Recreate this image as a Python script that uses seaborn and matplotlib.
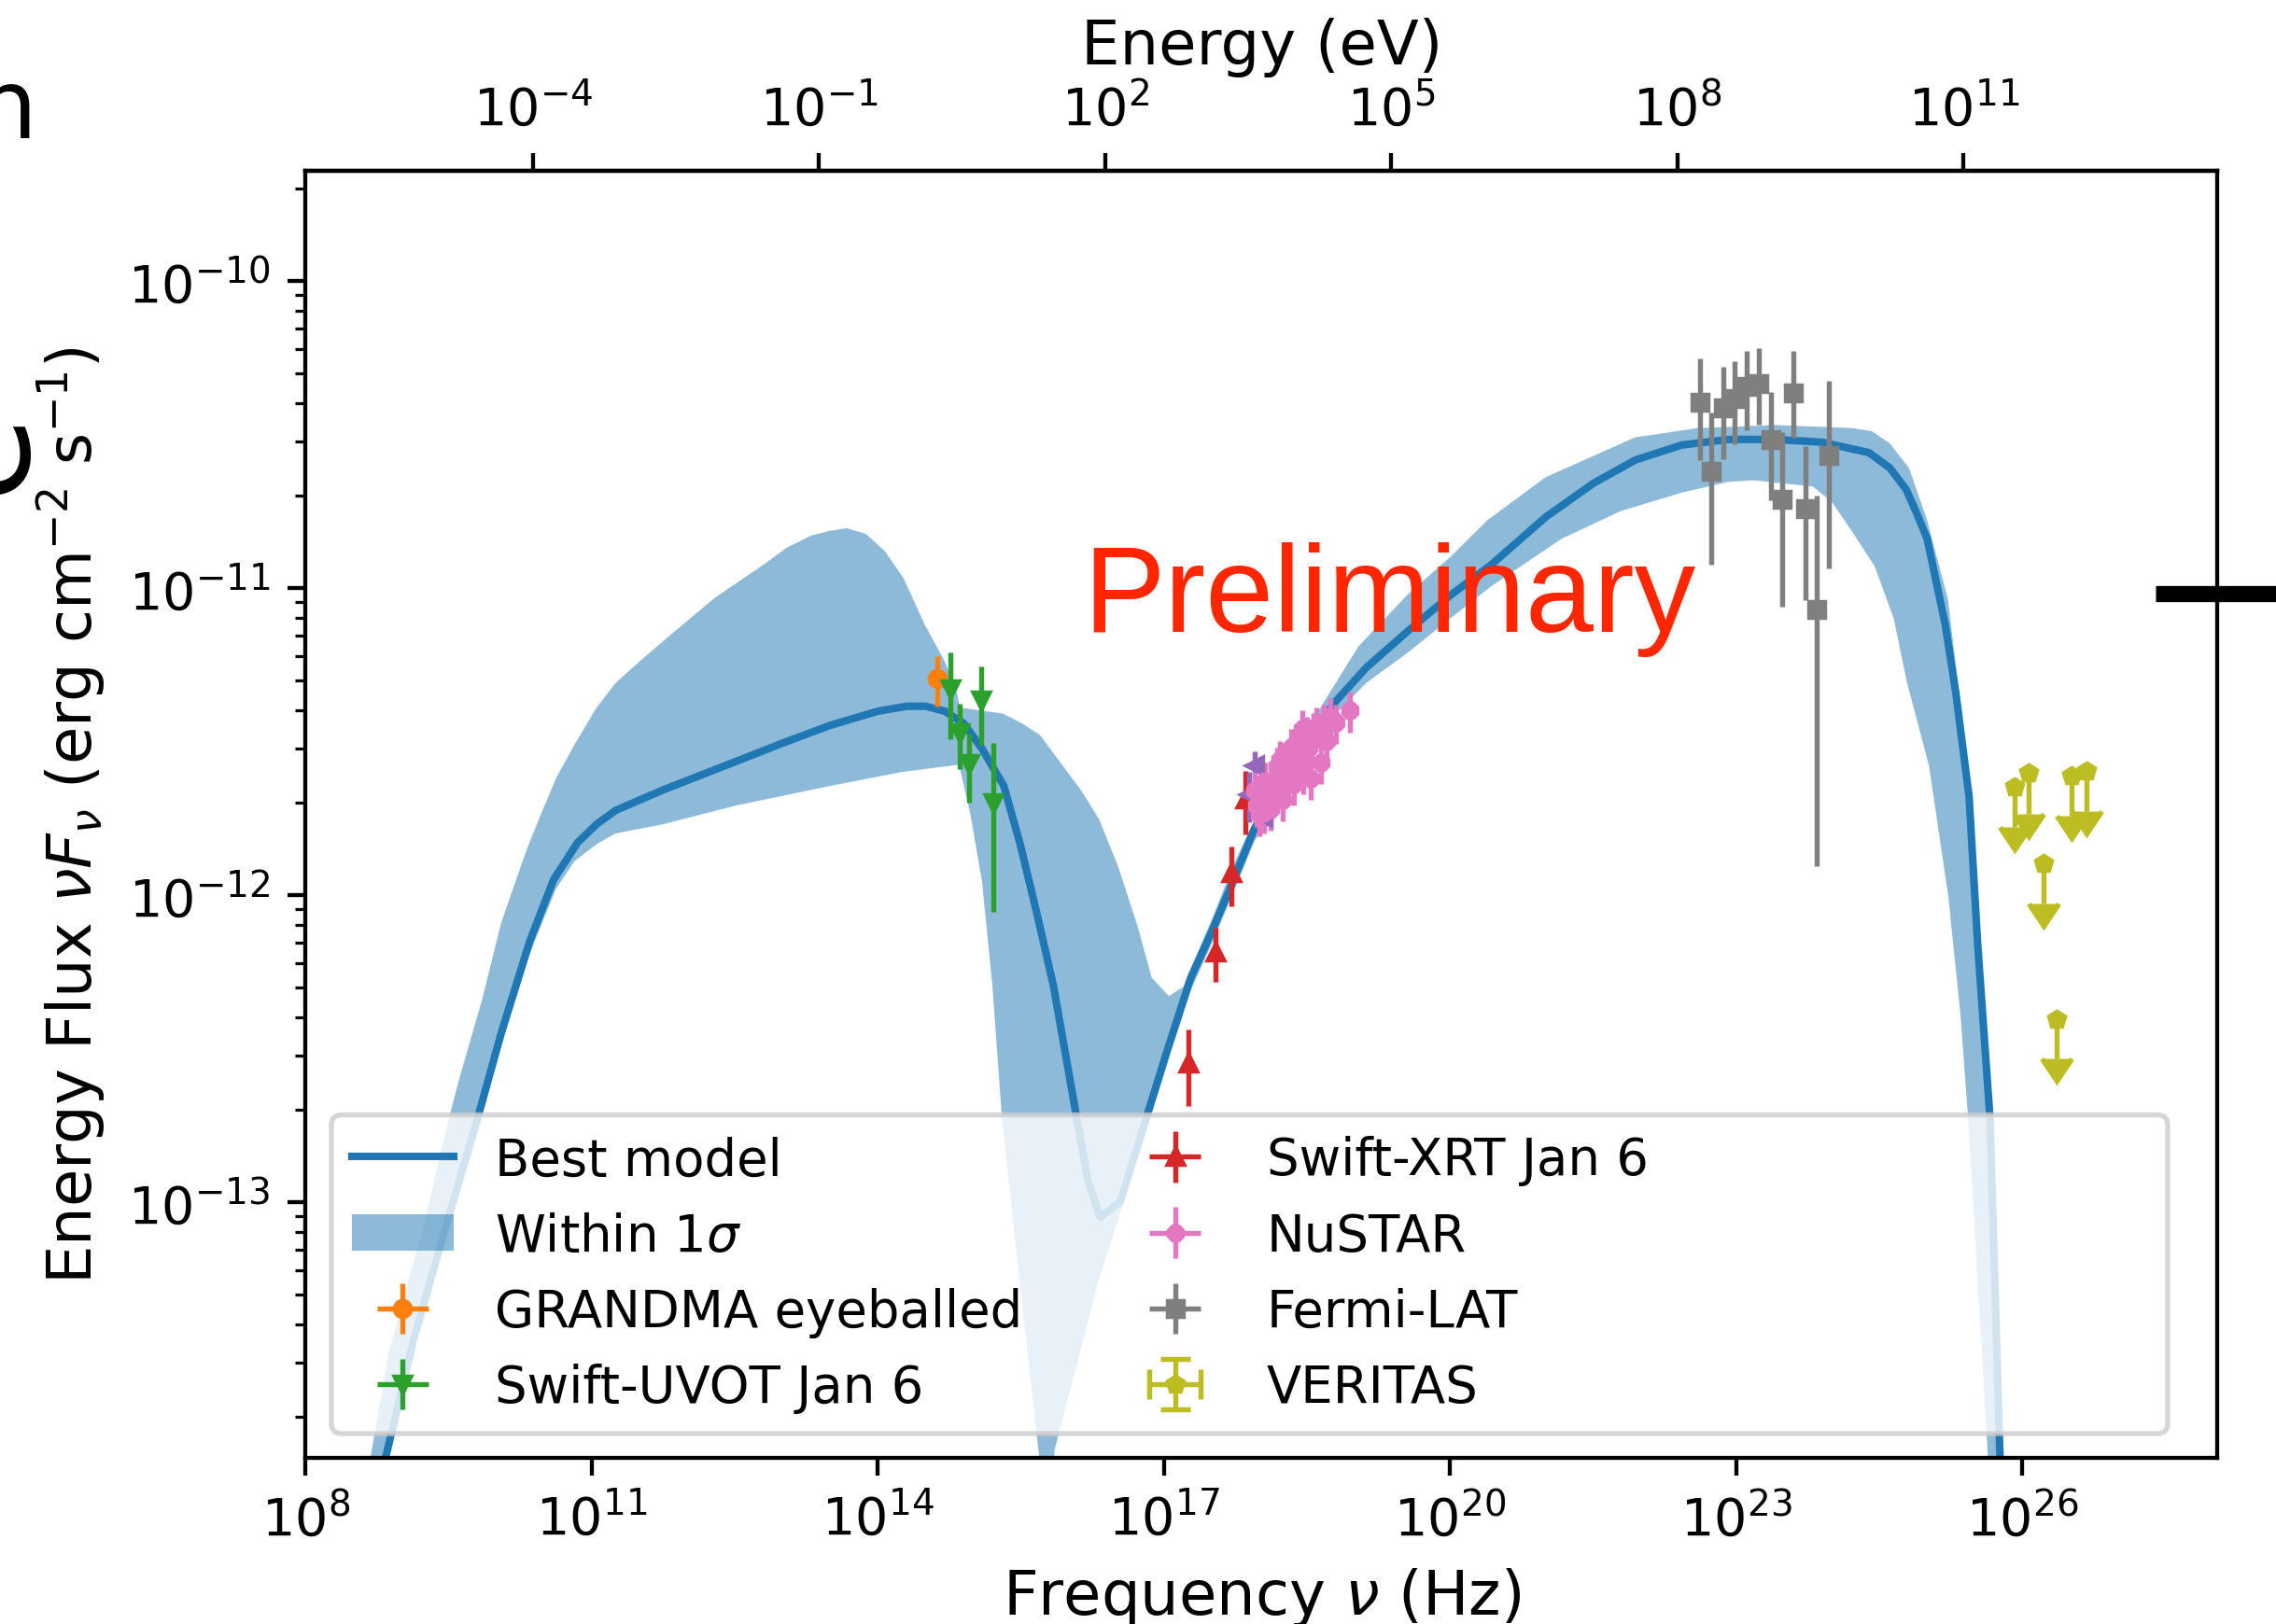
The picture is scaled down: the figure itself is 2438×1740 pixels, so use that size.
import numpy as np
import matplotlib
matplotlib.use("Agg")
import matplotlib.pyplot as plt
from matplotlib.patches import FancyBboxPatch
from matplotlib.lines import Line2D
from matplotlib.ticker import FixedLocator, NullLocator
import seaborn as sns

# ---------------------------------------------------------------- model (log10 values)
model_lognu = np.array([
    8.50, 8.84, 9.13, 9.46, 9.80, 10.05, 10.35, 10.60, 10.85, 11.05, 11.25, 11.75,
    12.50, 13.00, 13.50, 14.00, 14.30, 14.50, 14.70, 14.90, 15.09, 15.32, 15.49,
    15.67, 15.84, 16.08, 16.20, 16.33, 16.54, 16.81, 17.05, 17.28, 17.50, 17.73,
    17.94, 18.25, 18.51, 18.77, 19.12, 19.56, 20.00, 20.43, 21.00, 21.50, 21.94,
    22.43, 22.92, 23.41, 23.90, 24.39, 24.61, 24.78, 24.88, 25.00, 25.19, 25.30,
    25.44, 25.53, 25.61, 25.66, 25.76, 25.85])
model_logflux = np.array([
    -14.30, -13.83, -13.45, -13.09, -12.73, -12.45, -12.15, -11.95, -11.83, -11.77,
    -11.725, -11.658, -11.567, -11.506, -11.448, -11.402, -11.386, -11.386, -11.402,
    -11.442, -11.524, -11.646, -11.834, -12.066, -12.297, -12.72, -12.93, -13.05,
    -13.00, -12.73, -12.49, -12.27, -12.12, -11.95, -11.79, -11.63, -11.51, -11.38,
    -11.26, -11.14, -11.025, -10.925, -10.77, -10.66, -10.584, -10.535, -10.517,
    -10.517, -10.526, -10.56, -10.61, -10.68, -10.75, -10.84, -11.12, -11.34,
    -11.68, -12.16, -12.51, -12.73, -13.79, -14.60])

# 1-sigma envelope: upper and lower edges (log10 values)
band_hi_lognu = np.array([
    8.40, 8.68, 8.87, 9.23, 9.50, 9.60, 9.85, 10.05, 10.32, 10.45, 10.625, 10.82,
    11.05, 11.25, 11.50, 11.80, 12.30, 12.80, 13.04, 13.30, 13.49, 13.67, 13.87,
    14.07, 14.27, 14.49, 14.70, 14.82, 14.86, 15.08, 15.31, 15.50, 15.70, 15.89,
    16.13, 16.32, 16.52, 16.72, 16.87, 17.05, 17.20, 17.28, 17.50, 17.73, 18.00,
    18.50, 19.04, 19.56, 20.00, 20.39, 21.00, 21.94, 22.60, 23.41, 24.22, 24.42,
    24.61, 24.81, 25.00, 25.22, 25.30, 25.44, 25.53, 25.61, 25.68, 25.78, 25.90])
band_hi_logflux = np.array([
    -14.10, -13.83, -13.49, -13.085, -12.73, -12.61, -12.34, -12.09, -11.85, -11.75,
    -11.62, -11.51, -11.39, -11.31, -11.24, -11.16, -11.03, -10.925, -10.87, -10.83,
    -10.815, -10.806, -10.824, -10.88, -10.97, -11.12, -11.24, -11.33, -11.39, -11.40,
    -11.41, -11.44, -11.48, -11.56, -11.66, -11.755, -11.91, -12.10, -12.27, -12.33,
    -12.30, -12.24, -12.08, -11.90, -11.72, -11.46, -11.19, -11.02, -10.90, -10.78,
    -10.64, -10.51, -10.48, -10.47, -10.48, -10.49, -10.53, -10.61, -10.78, -11.04,
    -11.25, -11.62, -12.08, -12.42, -12.73, -13.79, -14.60])
band_lo_lognu = np.array([
    8.60, 8.84, 9.13, 9.46, 9.80, 10.05, 10.35, 10.625, 10.82, 11.05, 11.25, 11.75,
    12.50, 13.49, 14.25, 14.85, 14.97, 15.09, 15.20, 15.30, 15.50, 15.69, 15.77,
    15.85, 16.30, 16.78, 17.05, 17.28, 17.50, 17.73, 17.94, 18.25, 18.51, 18.77,
    19.12, 19.56, 20.00, 20.43, 21.17, 21.79, 21.94, 22.43, 22.92, 23.18, 23.80,
    24.00, 24.22, 24.45, 24.65, 24.79, 25.02, 25.22, 25.35, 25.43, 25.63, 25.75])
band_lo_logflux = np.array([
    -14.10, -13.87, -13.49, -13.13, -12.77, -12.49, -12.19, -11.98, -11.89, -11.835,
    -11.80, -11.77, -11.71, -11.646, -11.60, -11.576, -11.74, -11.956, -12.297, -12.73,
    -13.30, -13.83, -14.50, -13.81, -13.27, -12.80, -12.53, -12.31, -12.16, -11.99,
    -11.83, -11.67, -11.55, -11.42, -11.31, -11.21, -11.10, -10.995, -10.84, -10.75,
    -10.736, -10.69, -10.655, -10.65, -10.67, -10.72, -10.82, -10.93, -11.10, -11.31,
    -11.58, -12.00, -12.39, -12.73, -13.79, -14.60])

# ---------------------------------------------------------------- data points (Hz, erg cm^-2 s^-1)
grandma_nu = [4.15e14]
grandma_flux = [5.05e-12]
grandma_xerr = [1.0e13]
grandma_yerr = [0.94e-12]

uvot_nu = [5.69e14, 7.13e14, 9.06e14, 1.205e15, 1.63e15]
uvot_flux = [4.68e-12, 3.38e-12, 2.67e-12, 4.31e-12, 2.00e-12]
uvot_xerr = [1.7e13, 2.1e13, 2.7e13, 3.6e13, 4.9e13]
uvot_yerr = [1.47e-12, 0.82e-12, 0.68e-12, 1.24e-12, 1.12e-12]

xrt_nu = [1.80e17, 3.44e17, 5.12e17, 7.18e17]
xrt_flux = [2.84e-13, 6.52e-13, 1.18e-12, 2.05e-12]
xrt_xerr = [5.0e15, 1.0e16, 1.5e16, 2.0e16]
xrt_yerr = [0.79e-13, 1.30e-13, 0.26e-12, 0.48e-12]

xrt_b_nu = [7.74e17, 8.99e17, 1.087e18]
xrt_b_flux = [2.12e-12, 2.64e-12, 1.80e-12]
xrt_b_xerr = [2.3e16, 2.7e16, 3.3e16]
xrt_b_yerr = [0.40e-12, 0.30e-12, 0.20e-12]

xrt_c_nu = [1.146e18]
xrt_c_flux = [1.98e-12]
xrt_c_xerr = [3.4e16]
xrt_c_yerr = [0.30e-12]

nustar_nu = [8.913e17, 9.333e17, 1.000e18, 1.047e18, 1.122e18, 1.148e18, 1.202e18,
             1.259e18, 1.318e18, 1.349e18, 1.445e18, 1.514e18, 1.549e18, 1.622e18,
             1.660e18, 1.738e18, 1.778e18, 1.905e18, 1.995e18, 2.042e18, 2.138e18,
             2.188e18, 2.291e18, 2.344e18, 2.512e18, 2.630e18, 2.692e18, 2.818e18,
             2.884e18, 3.020e18, 3.162e18, 3.311e18, 3.467e18, 3.715e18, 3.981e18,
             4.365e18, 4.677e18, 5.012e18, 5.495e18, 6.310e18, 8.913e18]
nustar_flux = [2.188e-12, 1.950e-12, 1.820e-12, 2.042e-12, 1.862e-12, 2.344e-12,
               2.188e-12, 1.995e-12, 1.905e-12, 2.344e-12, 2.138e-12, 2.630e-12,
               2.512e-12, 2.754e-12, 2.291e-12, 2.042e-12, 2.692e-12, 2.455e-12,
               2.344e-12, 2.818e-12, 3.020e-12, 2.630e-12, 2.291e-12, 3.020e-12,
               2.754e-12, 2.630e-12, 3.162e-12, 3.467e-12, 2.512e-12, 2.818e-12,
               3.311e-12, 3.020e-12, 2.399e-12, 3.388e-12, 3.548e-12, 2.692e-12,
               3.631e-12, 3.162e-12, 3.802e-12, 3.631e-12, 3.981e-12]
nustar_xerr = [2.7e16, 2.8e16, 3.0e16, 3.1e16, 3.4e16, 3.4e16, 3.6e16, 3.8e16, 4.0e16,
               4.0e16, 4.3e16, 4.5e16, 4.6e16, 4.9e16, 5.0e16, 5.2e16, 5.3e16, 5.7e16,
               6.0e16, 6.1e16, 6.4e16, 6.6e16, 6.9e16, 7.0e16, 7.5e16, 7.9e16, 8.1e16,
               8.5e16, 8.7e16, 9.1e16, 9.5e16, 9.9e16, 1.04e17, 1.11e17, 1.19e17,
               1.31e17, 1.40e17, 1.50e17, 1.65e17, 1.89e17, 2.67e17]
nustar_yerr = [0.33e-12, 0.29e-12, 0.27e-12, 0.31e-12, 0.28e-12, 0.35e-12, 0.33e-12,
               0.30e-12, 0.29e-12, 0.35e-12, 0.32e-12, 0.39e-12, 0.38e-12, 0.41e-12,
               0.34e-12, 0.31e-12, 0.40e-12, 0.37e-12, 0.35e-12, 0.42e-12, 0.45e-12,
               0.39e-12, 0.34e-12, 0.45e-12, 0.41e-12, 0.39e-12, 0.47e-12, 0.52e-12,
               0.38e-12, 0.42e-12, 0.50e-12, 0.45e-12, 0.36e-12, 0.51e-12, 0.53e-12,
               0.40e-12, 0.54e-12, 0.47e-12, 0.57e-12, 0.54e-12, 0.60e-12]

fermi_nu = [4.11e22, 5.47e22, 7.26e22, 9.62e22, 1.297e23, 1.710e23, 2.280e23,
            3.006e23, 4.00e23, 5.33e23, 7.03e23, 9.38e23]
fermi_flux = [4.03e-11, 2.40e-11, 3.86e-11, 4.13e-11, 4.54e-11, 4.62e-11, 3.03e-11,
              1.94e-11, 4.32e-11, 1.81e-11, 0.849e-11, 2.69e-11]
fermi_xerr = [1.2e21, 1.6e21, 2.2e21, 2.9e21, 3.9e21, 5.1e21, 6.8e21, 9.0e21,
              1.2e22, 1.6e22, 2.1e22, 2.8e22]
fermi_yerr_lo = [1.43e-11, 1.21e-11, 1.23e-11, 1.19e-11, 1.28e-11, 1.22e-11, 1.10e-11,
                 1.07e-11, 1.23e-11, 0.90e-11, 0.725e-11, 1.53e-11]
fermi_yerr_hi = [1.54e-11, 1.33e-11, 1.39e-11, 1.34e-11, 1.38e-11, 1.42e-11, 1.30e-11,
                 1.28e-11, 1.57e-11, 1.08e-11, 1.15e-11, 2.04e-11]

veritas_nu = [8.20e25, 1.148e26, 1.66e26, 2.29e26, 3.24e26, 4.68e26]
veritas_flux = [2.24e-12, 2.49e-12, 1.265e-12, 3.93e-13, 2.44e-12, 2.53e-12]
veritas_xerr = [0.0, 0.0, 0.0, 0.0, 0.0, 0.0]
veritas_yerr = [0.58e-12, 0.65e-12, 0.33e-12, 0.10e-12, 0.63e-12, 0.66e-12]

legend_labels = ["Best model", r"Within 1$\sigma$", "GRANDMA eyeballed",
                 "Swift-UVOT Jan 6", "Swift-XRT Jan 6", "NuSTAR", "Fermi-LAT", "VERITAS"]

bottom_ticks = [1e8, 1e11, 1e14, 1e17, 1e20, 1e23, 1e26]
top_ticks = [1e-4, 1e-1, 1e2, 1e5, 1e8, 1e11]

H_EV = 4.135667e-15  # Planck constant in eV s

# ---------------------------------------------------------------- style
sns.set_style("ticks", rc={
    "axes.edgecolor": "black", "axes.labelcolor": "black", "text.color": "black",
    "xtick.color": "black", "ytick.color": "black",
    "patch.force_edgecolor": False, "lines.solid_capstyle": "projecting",
})
plt.rcParams["font.family"] = ["DejaVu Sans"]
LEGEND_FS = 10.1
plt.rcParams.update({"font.size": 10.3, "axes.labelsize": 12.15,
                     "legend.fontsize": LEGEND_FS, "mathtext.fontset": "dejavusans"})

DPI = 389
fig = plt.figure(figsize=(2438 / DPI, 1741 / DPI), dpi=DPI)
ax = fig.add_axes([0.13433, 0.10224, 0.83983, 0.79207])
ax.set_xscale("log")
ax.set_yscale("log")

# 1-sigma envelope
band_x = 10 ** np.concatenate([band_hi_lognu, band_lo_lognu[::-1]])
band_y = 10 ** np.concatenate([band_hi_logflux, band_lo_logflux[::-1]])
band, = ax.fill(band_x, band_y, color="C0", alpha=0.5, lw=0, zorder=1)

# best-fit model
sns.lineplot(x=10 ** model_lognu, y=10 ** model_logflux, ax=ax, color="C0",
             linewidth=1.5, estimator=None, sort=False)
model_line = ax.lines[-1]

common = dict(ms=3, elinewidth=1.0)
eb_grandma = ax.errorbar(grandma_nu, grandma_flux, xerr=grandma_xerr, yerr=grandma_yerr,
                         fmt="o", color="C1", **common)
eb_uvot = ax.errorbar(uvot_nu, uvot_flux, xerr=uvot_xerr, yerr=uvot_yerr,
                      fmt="v", color="C2", **common)
eb_xrt = ax.errorbar(xrt_nu, xrt_flux, xerr=xrt_xerr, yerr=xrt_yerr,
                     fmt="^", color="C3", **common)
ax.errorbar(xrt_b_nu, xrt_b_flux, xerr=xrt_b_xerr, yerr=xrt_b_yerr,
            fmt="<", color="C4", **common)
ax.errorbar(xrt_c_nu, xrt_c_flux, xerr=xrt_c_xerr, yerr=xrt_c_yerr,
            fmt=">", color="C5", **common)
eb_nustar = ax.errorbar(nustar_nu, nustar_flux, xerr=nustar_xerr, yerr=nustar_yerr,
                        fmt="8", color="C6", **common)
eb_fermi = ax.errorbar(fermi_nu, fermi_flux, xerr=fermi_xerr,
                       yerr=[fermi_yerr_lo, fermi_yerr_hi], fmt="s", color="C7", **common)
eb_veritas = ax.errorbar(veritas_nu, veritas_flux, xerr=veritas_xerr, yerr=veritas_yerr,
                         uplims=True, fmt="p", color="C8", **common)

ax.set_xlim(1e8, 1.1e28)
ax.set_ylim(1.466e-14, 2.28e-10)
ax.xaxis.set_major_locator(FixedLocator(bottom_ticks))
ax.xaxis.set_minor_locator(NullLocator())
ax.set_xlabel(r"Frequency $\nu$ (Hz)")
ax.set_ylabel(r"Energy Flux $\nu F_\nu$ (erg cm$^{-2}$ s$^{-1}$)")

secax = ax.secondary_xaxis("top", functions=(lambda nu: nu * H_EV, lambda e: e / H_EV))
secax.set_xticks(top_ticks)
secax.xaxis.set_minor_locator(NullLocator())
secax.set_xlabel("Energy (eV)", fontsize=12.15)

handles = [model_line, band, eb_grandma, eb_uvot, eb_xrt, eb_nustar, eb_fermi, eb_veritas]
leg = ax.legend(handles, legend_labels, ncol=2, loc="lower left",
                bbox_to_anchor=(0.01343, 0.01885), bbox_transform=ax.transAxes,
                borderaxespad=0, frameon=False)

# wide rounded legend frame
fig.canvas.draw()
bb = leg.get_window_extent().transformed(ax.transAxes.inverted())
frame_right = 0.97411
ax_w_px = ax.get_window_extent().width
ax_h_px = ax.get_window_extent().height
round_px = 0.2 * LEGEND_FS * DPI / 72
frame = FancyBboxPatch((bb.x0, bb.y0), frame_right - bb.x0, bb.height,
                       boxstyle=f"round,pad=0,rounding_size={round_px / ax_w_px:.5f}",
                       mutation_aspect=ax_w_px / ax_h_px, transform=ax.transAxes,
                       facecolor="white", edgecolor="0.8", linewidth=1.0, alpha=0.8,
                       zorder=4.9)
ax.add_patch(frame)

# watermark
fig.text(1160 / 2438, 1 - 677 / 1741, "Preliminary", color="#ff2600", fontsize=24.3,
         family=["Liberation Sans", "DejaVu Sans"], ha="left", va="baseline",
         zorder=10)

# edges of the adjacent panels
fig.text(-25 / 2438, 1 - 148 / 1741, "n", fontsize=19, ha="left", va="baseline")
fig.text(56 / 2438, 1 - 484 / 1741, "e", fontsize=28, rotation=90, ha="right", va="center")
fig.add_artist(Line2D([2309 / 2438, 1.0], [1 - 637 / 1741, 1 - 637 / 1741],
                      transform=fig.transFigure, color="black", lw=3.2,
                      solid_capstyle="butt"))

fig.savefig("out.png", dpi=DPI)
